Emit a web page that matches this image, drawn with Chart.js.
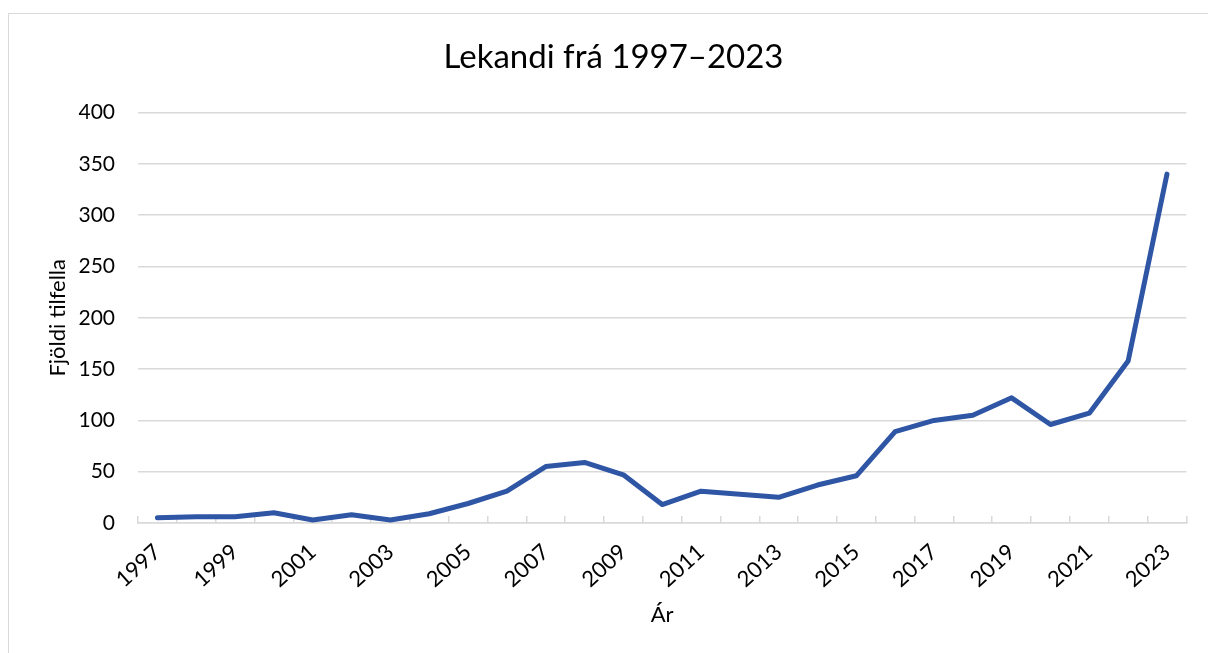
<!DOCTYPE html>
<html>
<head>
<meta charset="utf-8">
<script src="https://cdn.jsdelivr.net/npm/chart.js@4.4.1/dist/chart.umd.min.js"></script>
<style>
  html, body { margin: 0; padding: 0; background: #fff; overflow: hidden; }
  #wrap { position: absolute; left: 0; top: 0; width: 1208px; height: 653px; }
  #frame { position: absolute; left: 8px; top: 13px; width: 1400px; height: 900px;
           border-left: 1.5px solid #d9d9d9; border-top: 1.5px solid #d9d9d9; pointer-events: none; }
  canvas { position: absolute; left: 0; top: 0; }
</style>
</head>
<body>
<div id="wrap">
  <canvas id="c" width="1208" height="653" style="width:1208px;height:653px"></canvas>
  <div id="frame"></div>
</div>
<script>
const years = ['1997','1998','1999','2000','2001','2002','2003','2004','2005','2006','2007','2008','2009','2010','2011','2012','2013','2014','2015','2016','2017','2018','2019','2020','2021','2022','2023'];
const cases = [5, 6, 6, 10, 3, 8, 3, 9, 19, 31, 55, 59, 47, 18, 31, 28, 25, 37, 46, 89, 100, 105, 122, 96, 107, 158, 340];
const yTicks = [0, 50, 100, 150, 200, 250, 300, 350, 400];
const titleText = 'Lekandi frá 1997–2023';
const yTitle = 'Fjöldi tilfella';
const xTitle = 'Ár';

const FONT = 'Lato, "Open Sans", sans-serif';
const GRID = '#d9d9d9';

new Chart(document.getElementById('c'), {
  type: 'line',
  data: {
    labels: years,
    datasets: [{
      data: cases,
      borderColor: '#2F55A5',
      backgroundColor: '#2F55A5',
      borderWidth: 5,
      borderCapStyle: 'round',
      borderJoinStyle: 'round',
      pointRadius: 0,
      pointHoverRadius: 0,
      tension: 0,
      fill: false
    }]
  },
  options: {
    responsive: false,
    animation: false,
    devicePixelRatio: 1,
    layout: { padding: { left: 40, right: 21, top: 0, bottom: 0 } },
    plugins: {
      legend: { display: false },
      tooltip: { enabled: false },
      title: {
        display: true,
        text: titleText,
        color: '#000',
        font: { family: FONT, size: 33, weight: 'normal' },
        padding: { top: 38, bottom: 35 }
      }
    },
    scales: {
      x: {
        type: 'category',
        offset: true,
        border: { display: true, color: GRID, width: 1.5 },
        grid: { display: true, drawOnChartArea: false, drawTicks: true, tickLength: -7, offset: true, color: GRID, lineWidth: 1.5 },
        ticks: {
          autoSkip: false,
          minRotation: 42,
          maxRotation: 42,
          padding: 23,
          color: '#000',
          font: { family: FONT, size: 22 },
          callback: function(v, i) { return i % 2 === 0 ? years[i] : ''; }
        },
        title: {
          display: true,
          text: xTitle,
          color: '#000',
          font: { family: FONT, size: 22 },
          padding: { top: 0, bottom: 25 }
        },
        afterFit: function(s) { s.height = 130; }
      },
      y: {
        min: 0,
        max: 400,
        border: { display: false },
        grid: { color: GRID, lineWidth: 1.5, drawTicks: false },
        afterBuildTicks: function(s) { s.ticks = yTicks.map(v => ({ value: v })); },
        ticks: {
          padding: 23,
          color: '#000',
          font: { family: FONT, size: 21 }
        },
        title: {
          display: true,
          text: yTitle,
          color: '#000',
          font: { family: FONT, size: 22 },
          padding: { top: 5, bottom: 0 }
        },
        afterFit: function(s) { s.width = 98; }
      }
    }
  }
});
</script>
</body>
</html>
